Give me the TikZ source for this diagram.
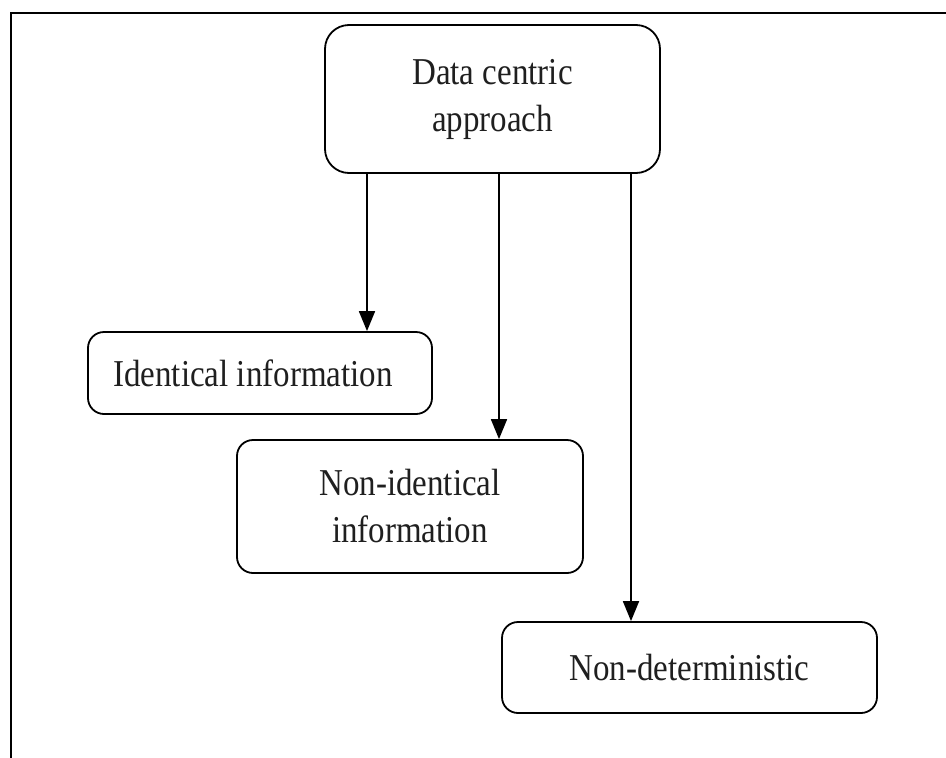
\documentclass[tikz,border=0pt]{standalone}
\usepackage{fontspec}
\usepackage{graphicx}
\setmainfont{Liberation Serif}
\usetikzlibrary{arrows.meta}
\newcommand\vst[1]{\scalebox{1}[1.15]{#1}}
\begin{document}
\begin{tikzpicture}[x=1pt,y=-1pt,
  box/.style={draw, line width=1.8pt, rounded corners=16pt, inner sep=0pt, align=center,
    font=\fontsize{33}{47}\selectfont, text=black!88},
  arr/.style={line width=1.8pt, -{Triangle[length=20pt,width=16pt]}}]
\useasboundingbox (0,0) rectangle (946,758);
\fill[white] (0,0) rectangle (946,758);
\coordinate (fl) at (11,758);
\coordinate (fc) at (11,13);
\coordinate (fr) at (946,13);
\draw[line width=2.5pt] (fl) -- (fc) -- (fr);
\node[box, rounded corners=24pt, minimum width=335pt, minimum height=148pt] (top) at (492.5,99) {\vst{Data centric}\\\vst{approach}};
\node[box, minimum width=344pt, minimum height=82pt] (ident) at (260,373) {\hspace*{-14pt}\vst{Identical information}};
\node[box, minimum width=346pt, minimum height=133pt] (nonid) at (410,506.5) {\vst{Non-identical}\\\vst{information}};
\node[box, minimum width=375pt, minimum height=91pt] (nondet) at (689.5,667.5) {\vst{Non-deterministic}};
\draw[arr] ([xshift=-125.5pt]top.south) -- ([xshift=107pt]ident.north);
\draw[arr] ([xshift=6.5pt]top.south) -- ([xshift=89pt]nonid.north);
\draw[arr] ([xshift=138.5pt]top.south) -- ([xshift=-58.5pt]nondet.north);
\end{tikzpicture}
\end{document}
